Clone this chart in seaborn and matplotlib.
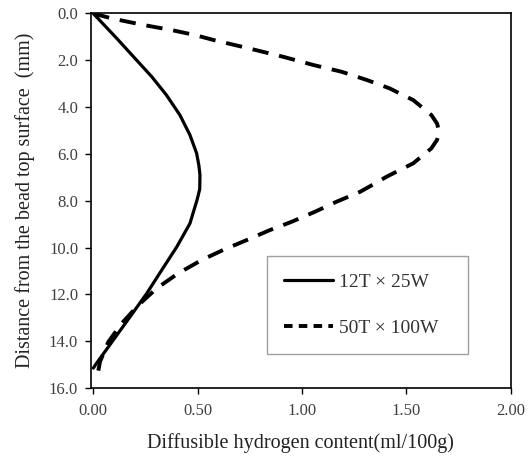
import matplotlib
matplotlib.use("Agg")
import matplotlib.pyplot as plt
import seaborn as sns

# depth from bead top surface (mm) vs diffusible hydrogen content (ml/100g)
depth_12t = [0.0, 1.06, 1.92, 2.7, 3.48, 4.34, 5.19, 5.97, 6.5, 6.9, 7.5, 7.97, 8.97, 9.97,
             10.96, 11.96, 12.96, 13.95, 14.95, 15.15]
h_12t = [0.0, 0.112, 0.20, 0.28, 0.35, 0.415, 0.463, 0.495, 0.506, 0.511, 0.510, 0.497, 0.463,
         0.40, 0.328, 0.256, 0.176, 0.096, 0.015, 0.0]

depth_50t = [0.0, 0.21, 0.49, 0.71, 0.92, 1.13, 1.5, 1.85, 2.2, 2.49, 2.84, 3.2, 3.7, 4.34, 4.7,
             5.05, 5.4, 5.76, 6.4, 6.97, 7.26, 7.62, 8.04, 8.47, 8.9, 9.25, 9.68, 10.1, 10.53,
             11.1, 11.74, 12.46, 13.24, 14.03, 14.88, 15.45]
h_50t = [0.0, 0.088, 0.24, 0.376, 0.487, 0.575, 0.75, 0.91, 1.054, 1.19, 1.31, 1.42, 1.533, 1.62,
         1.647, 1.658, 1.647, 1.62, 1.533, 1.406, 1.35, 1.278, 1.166, 1.062, 0.95, 0.847, 0.735,
         0.623, 0.52, 0.407, 0.304, 0.216, 0.136, 0.072, 0.032, 0.02]

labels = ["12T × 25W", "50T × 100W"]
x_ticks = [0.0, 0.5, 1.0, 1.5, 2.0]
y_ticks = [0, 2, 4, 6, 8, 10, 12, 14, 16]

sns.set_style("ticks")
plt.rcParams['font.family'] = ['Liberation Serif', 'DejaVu Serif']

fig = plt.figure(figsize=(5.31, 4.59), dpi=100)
ax = fig.add_axes([0.1708, 0.1547, 0.791, 0.8159])

sns.lineplot(x=h_12t, y=depth_12t, sort=False, estimator=None, color="black",
             linewidth=2.3, label=labels[0], ax=ax)
sns.lineplot(x=h_50t, y=depth_50t, sort=False, estimator=None, color="black",
             linewidth=2.8, dashes=False, label=labels[1], ax=ax)
ax.lines[1].set_dashes((4.2, 2.8))

ax.set_xlim(-0.0125, 2.0)
ax.set_ylim(16, 0)
ax.set_xticks(x_ticks)
ax.set_yticks(y_ticks)
ax.set_xticklabels([f"{v:.2f}" for v in x_ticks])
ax.set_yticklabels([f"{v:.1f}" for v in y_ticks])
ax.tick_params(labelsize=12, labelcolor="#404040", color="black", length=4, width=1)
ax.tick_params(axis="x", pad=7)
ax.tick_params(axis="y", pad=5)
for s in ax.spines.values():
    s.set_visible(True)
    s.set_color("black")
    s.set_linewidth(1.2)

ax.set_xlabel("Diffusible hydrogen content(ml/100g)", fontsize=14.5, labelpad=10, color="#222222")
ax.set_ylabel("Distance from the bead top surface  (mm)", fontsize=14.5, labelpad=10, color="#222222")

leg = ax.legend(loc="upper left", bbox_to_anchor=(0.419, 0.093, 0.48, 0.26), mode="expand",
                borderaxespad=0, frameon=True, fancybox=False, framealpha=1, fontsize=14,
                handlelength=2.5, labelspacing=1.45, borderpad=0.9, handletextpad=0.3)
leg.get_frame().set_edgecolor("#a0a0a0")
leg.get_frame().set_linewidth(1.0)
leg.get_frame().set_facecolor("white")
leg.get_lines()[1].set_dashes((2.2, 1.6))
for t in leg.get_texts():
    t.set_color("#333333")

fig.savefig("out.png", dpi=100)
